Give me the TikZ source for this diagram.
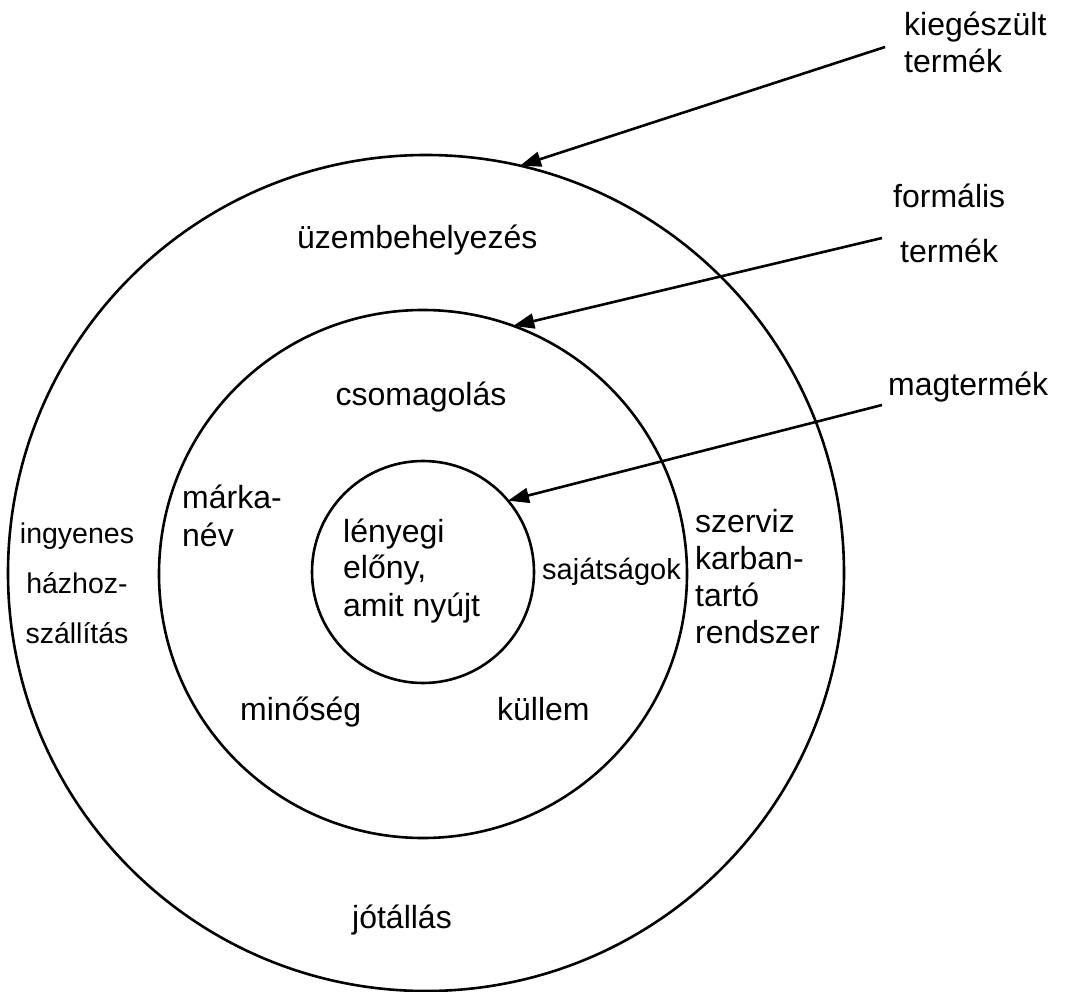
\documentclass[tikz,border=0pt]{standalone}
\usepackage{fontspec}
\setmainfont{Liberation Sans}
\usetikzlibrary{arrows.meta}
\begin{document}
\begin{tikzpicture}[x=1pt,y=-1pt,
  ring/.style={circle,draw,line width=2.6pt,inner sep=0pt,outer sep=0pt},
  lbl/.style={inner sep=0pt,font=\fontsize{32}{37}\selectfont},
  pointer/.style={line width=2.6pt,-{Triangle[length=21pt,width=15pt]}}]
\useasboundingbox (0,0) rectangle (1070,992);
% three concentric product levels
\node[ring,minimum size=836pt] (outer) at (426,573) {};
\node[ring,minimum size=528pt] (middle) at (423,574) {};
\node[ring,minimum size=222pt] (inner) at (423,572) {};
% level names on the right (multi-line nodes are placed by their last baseline)
\node[lbl,anchor=base west,align=left] (kt) at (904,73) {kiegészült\\termék};
\node[lbl,anchor=base west] (fl) at (893,208) {formális};
\node[lbl,anchor=base west] (ft) at (900,262) {termék};
\node[lbl,anchor=base west] (mt) at (888,395) {magtermék};
\coordinate (ka) at (885,47);
\coordinate (fa) at (882,238);
\coordinate (ma) at (882,405);
\draw[pointer] (ka) -- (outer.77);
\draw[pointer] (fa) -- (middle.70.5);
\draw[pointer] (ma) -- (inner.40);
% augmented product
\node[lbl,anchor=base west] (uz) at (297,248) {üzembehelyezés};
\node[lbl,anchor=base,align=center,font=\fontsize{28.5}{34}\selectfont] (ing) at (77,643) {ingyenes\\[16pt]házhoz-\\[16pt]szállítás};
\node[lbl,anchor=base west,align=left] (sz) at (695,643) {szerviz\\karban-\\tartó\\rendszer};
\node[lbl,anchor=base west] (jo) at (352,928) {jótállás};
% formal product
\node[lbl,anchor=base] (cs) at (421,405) {csomagolás};
\node[lbl,anchor=base west,align=left] (ma2) at (182,546) {márka-\\[1pt]név};
\node[lbl,anchor=base west,font=\fontsize{29}{35}\selectfont] (sa) at (542,579) {sajátságok};
\node[lbl,anchor=base west] (mi) at (240,720) {minőség};
\node[lbl,anchor=base west] (ku) at (497,720) {küllem};
% core product
\node[lbl,anchor=base west,align=left] (le) at (343,616) {lényegi\\[-1pt]előny,\\[1pt]amit nyújt};
\end{tikzpicture}
\end{document}
